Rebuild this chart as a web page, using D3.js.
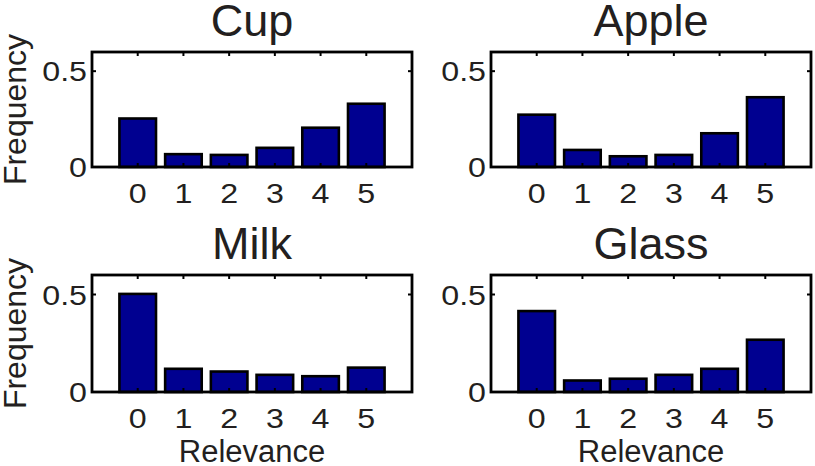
<!DOCTYPE html>
<html>
<head>
<meta charset="utf-8">
<script src="https://cdn.jsdelivr.net/npm/d3@7"></script>
<style>
  body { margin: 0; background: #fff; }
  text { font-family: "Liberation Sans", Arial, sans-serif; fill: #231f20; }
</style>
</head>
<body>
<div id="chart"></div>
<script>
const relevance = [0, 1, 2, 3, 4, 5];
const yTicks = [0, 0.5];
const titles = ["Cup", "Apple", "Milk", "Glass"];
const cup = [0.253, 0.067, 0.063, 0.100, 0.205, 0.330];
const apple = [0.273, 0.089, 0.056, 0.063, 0.176, 0.364];
const milk = [0.503, 0.119, 0.105, 0.088, 0.081, 0.125];
const glass = [0.415, 0.059, 0.068, 0.088, 0.119, 0.268];

const width = 815, height = 466;
const svg = d3.select("#chart").append("svg")
  .attr("width", width).attr("height", height);

const panels = [
  { title: titles[0], values: cup,   x0: 92,  x1: 412, y0: 52,  y1: 167, ylabel: true,  xlabel: false },
  { title: titles[1], values: apple, x0: 491, x1: 811, y0: 52,  y1: 167, ylabel: false, xlabel: false },
  { title: titles[2], values: milk,  x0: 92,  x1: 412, y0: 275, y1: 392, ylabel: true,  xlabel: true },
  { title: titles[3], values: glass, x0: 491, x1: 811, y0: 275, y1: 392, ylabel: false, xlabel: true },
];

panels.forEach(p => {
  const x = d3.scaleLinear().domain([-1, 6]).range([p.x0, p.x1]);
  const y = d3.scaleLinear().domain([0, 0.6]).range([p.y1, p.y0]);
  const bw = (x(1) - x(0)) * 0.8;
  const g = svg.append("g");

  // bars
  g.selectAll("rect.bar")
    .data(p.values)
    .enter()
    .append("rect")
    .attr("class", "bar")
    .attr("x", (d, i) => x(relevance[i]) - bw / 2)
    .attr("y", d => y(d))
    .attr("width", bw)
    .attr("height", d => y(0) - y(d))
    .attr("fill", "#000090")
    .attr("stroke", "#000")
    .attr("stroke-width", 2.6);

  // inward ticks on all four sides
  const tl = 4;
  relevance.forEach(v => {
    g.append("line").attr("x1", x(v)).attr("x2", x(v))
      .attr("y1", p.y0).attr("y2", p.y0 + tl).attr("stroke", "#000").attr("stroke-width", 2);
    g.append("line").attr("x1", x(v)).attr("x2", x(v))
      .attr("y1", p.y1).attr("y2", p.y1 - tl).attr("stroke", "#000").attr("stroke-width", 2);
  });
  yTicks.forEach(v => {
    g.append("line").attr("x1", p.x0).attr("x2", p.x0 + tl)
      .attr("y1", y(v)).attr("y2", y(v)).attr("stroke", "#000").attr("stroke-width", 2);
    g.append("line").attr("x1", p.x1).attr("x2", p.x1 - tl)
      .attr("y1", y(v)).attr("y2", y(v)).attr("stroke", "#000").attr("stroke-width", 2);
  });

  // box
  g.append("rect")
    .attr("x", p.x0).attr("y", p.y0)
    .attr("width", p.x1 - p.x0).attr("height", p.y1 - p.y0)
    .attr("fill", "none").attr("stroke", "#000").attr("stroke-width", 2.8);

  // x tick labels
  g.selectAll("text.xt")
    .data(relevance)
    .enter()
    .append("text")
    .attr("class", "xt")
    .attr("transform", d => `translate(${x(d)},${p.y1 + 36}) scale(1.15,1)`)
    .attr("text-anchor", "middle")
    .style("font-size", "28px")
    .text(d => d);

  // y tick labels
  g.selectAll("text.yt")
    .data(yTicks)
    .enter()
    .append("text")
    .attr("class", "yt")
    .attr("transform", d => `translate(${p.x0 - 5},${y(d) + 10}) scale(1.15,1)`)
    .attr("text-anchor", "end")
    .style("font-size", "28px")
    .text(d => d === 0 ? "0" : d3.format(".1f")(d));

  // title
  g.append("text")
    .attr("x", (p.x0 + p.x1) / 2)
    .attr("y", p.y0 - 16)
    .attr("text-anchor", "middle")
    .style("font-size", "45px")
    .text(p.title);

  if (p.ylabel) {
    g.append("text")
      .attr("transform", `translate(26,${(p.y0 + p.y1) / 2}) rotate(-90)`)
      .attr("text-anchor", "middle")
      .style("font-size", "32px")
      .text("Frequency");
  }
  if (p.xlabel) {
    g.append("text")
      .attr("x", (p.x0 + p.x1) / 2)
      .attr("y", 462)
      .attr("text-anchor", "middle")
      .style("font-size", "31px")
      .text("Relevance");
  }
});
</script>
</body>
</html>
